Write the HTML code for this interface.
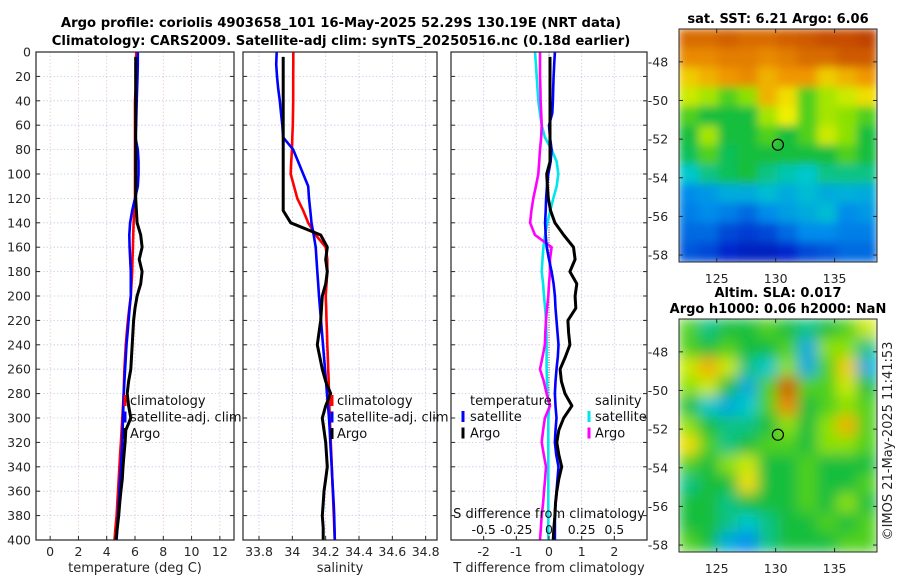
<!DOCTYPE html>
<html><head><meta charset="utf-8"><style>
html,body{margin:0;padding:0;background:#fff}
svg{display:block;font-family:"DejaVu Sans","Liberation Sans",sans-serif}
</style></head><body>
<svg id="fig" width="900" height="580" viewBox="0 0 900 580" xmlns="http://www.w3.org/2000/svg">
<defs>
<filter id="blurA" x="0" y="0" width="1" height="1"><feGaussianBlur stdDeviation="4.5" edgeMode="duplicate"/></filter>
<filter id="blurB" x="0" y="0" width="1" height="1"><feGaussianBlur stdDeviation="7" edgeMode="duplicate"/></filter>
<clipPath id="clipM1"><rect x="679" y="29" width="198" height="233"/></clipPath>
<clipPath id="clipM2"><rect x="679" y="319" width="198" height="233"/></clipPath>
</defs>
<g id="root"></g>
</svg>
<script>
// ---------- data ----------
const depths = [0,10,20,30,40,50,60,70,80,90,100,110,120,130,140,150,160,170,180,190,200,210,220,230,240,250,260,270,280,290,300,310,320,330,340,350,360,370,380,390,400];
const tClim = [6.1,6.05,6.05,6.05,6.0,6.0,6.0,6.0,6.0,6.0,6.0,6.0,6.0,5.95,5.9,5.87,5.85,5.82,5.8,5.75,5.7,5.6,5.5,5.42,5.35,5.3,5.25,5.22,5.2,5.15,5.1,5.05,5.0,4.95,4.9,4.85,4.8,4.75,4.7,4.62,4.55];
const tSat = [6.2,6.2,6.18,6.15,6.12,6.1,6.08,6.03,6.2,6.25,6.25,6.2,6.0,5.8,5.65,5.6,5.62,5.66,5.7,5.7,5.7,5.62,5.55,5.48,5.4,5.35,5.3,5.25,5.2,5.18,5.15,5.12,5.1,5.05,5.0,4.95,4.9,4.85,4.8,4.75,4.7];
const tArgo = [6.05,6.05,6.05,6.05,6.05,6.05,6.05,6.05,6.05,6.05,6.05,6.05,6.05,6.1,6.15,6.4,6.5,6.3,6.5,6.4,6.15,6.0,5.9,5.85,5.8,5.75,5.7,5.55,5.45,5.55,5.7,5.35,5.3,5.22,5.15,5.1,5.0,4.92,4.85,4.75,4.65];
const sClim = [34.006,34.006,34.005,34.005,34.005,34.004,34.003,34.0,33.998,33.993,33.99,34.01,34.03,34.065,34.095,34.14,34.2,34.21,34.21,34.205,34.2,34.203,34.205,34.208,34.21,34.213,34.215,34.218,34.22,34.222,34.225,34.228,34.231,34.234,34.237,34.24,34.243,34.246,34.249,34.252,34.255];
const sSat = [33.906,33.903,33.908,33.915,33.925,33.932,33.94,33.945,34.005,34.035,34.065,34.095,34.1,34.108,34.115,34.128,34.14,34.145,34.15,34.155,34.16,34.166,34.172,34.178,34.184,34.19,34.196,34.202,34.208,34.214,34.22,34.224,34.228,34.232,34.236,34.24,34.244,34.248,34.251,34.253,34.255];
const sArgo = [33.945,33.945,33.945,33.945,33.945,33.945,33.945,33.945,33.945,33.945,33.945,33.945,33.945,33.945,33.99,34.17,34.21,34.2,34.21,34.2,34.18,34.175,34.17,34.16,34.15,34.165,34.18,34.2,34.23,34.2,34.18,34.19,34.2,34.205,34.21,34.2,34.19,34.185,34.18,34.185,34.185];
const dTSat = [0.18,0.16,0.14,0.13,0.12,0.1,0.0,0.03,0.08,0.05,-0.02,-0.06,-0.09,-0.1,-0.12,-0.1,-0.07,0.0,0.08,0.14,0.18,0.2,0.23,0.26,0.29,0.27,0.23,0.2,0.18,0.2,0.23,0.2,0.18,0.22,0.29,0.26,0.23,0.2,0.18,0.18,0.18];
const dTArgo = [0.03,0.03,0.03,0.03,0.03,0.03,0.03,0.03,0.03,0.03,-0.07,-0.05,-0.02,0.05,0.18,0.45,0.75,0.8,0.64,0.85,0.8,0.82,0.58,0.6,0.64,0.5,0.34,0.38,0.49,0.7,0.45,0.3,0.24,0.3,0.39,0.3,0.24,0.2,0.18,0.15,0.13];
const dSSat = [-0.107,-0.1,-0.094,-0.088,-0.082,-0.07,-0.056,-0.031,0.02,0.059,0.071,0.059,0.033,0.01,-0.013,-0.03,-0.043,-0.05,-0.056,-0.045,-0.038,-0.03,-0.023,-0.02,-0.018,-0.018,-0.018,-0.015,-0.013,0.003,-0.005,-0.005,-0.005,-0.005,-0.005,-0.005,-0.005,-0.005,-0.005,-0.005,-0.005];
const dSArgo = [-0.069,-0.069,-0.069,-0.066,-0.064,-0.06,-0.056,-0.06,-0.069,-0.075,-0.082,-0.1,-0.12,-0.135,-0.145,-0.107,0.02,0.008,0.008,0.0,-0.005,-0.015,-0.023,-0.028,-0.031,-0.05,-0.069,-0.04,-0.018,0.008,-0.031,-0.045,-0.056,-0.04,-0.023,-0.03,-0.038,-0.045,-0.056,-0.062,-0.069];
const depthTicks = [0,20,40,60,80,100,120,140,160,180,200,220,240,260,280,300,320,340,360,380,400];
const tTicks = [0,2,4,6,8,10,12];
const sTicks = [33.8,34,34.2,34.4,34.6,34.8];
const dTTicks = [-2,-1,0,1,2];
const dSTicks = [-0.5,-0.25,0,0.25,0.5];
const lonTicks = [125,130,135];
const latTicks = [-48,-50,-52,-54,-56,-58];
const argoLon = 130.19, argoLat = -52.29;
// SST map (normalized colour index 0..1), rows north->south
const sstGrid = [
[.85,.85,.87,.85,.85,.87,.88,.9,.9,.92],
[.8,.8,.82,.82,.8,.82,.85,.85,.88,.88],
[.72,.75,.78,.8,.75,.78,.78,.72,.75,.78],
[.65,.62,.55,.6,.75,.7,.55,.62,.65,.7],
[.55,.5,.5,.5,.62,.68,.55,.62,.6,.55],
[.5,.62,.5,.5,.55,.5,.55,.65,.6,.5],
[.48,.55,.48,.5,.5,.5,.5,.5,.55,.5],
[.4,.45,.48,.5,.45,.42,.4,.45,.45,.45],
[.3,.32,.35,.35,.38,.35,.38,.35,.36,.35],
[.28,.3,.28,.25,.3,.33,.35,.38,.3,.32],
[.25,.25,.2,.18,.2,.25,.3,.3,.28,.28],
[.22,.2,.15,.12,.12,.15,.2,.22,.25,.25]];
const slaGrid = [
[.55,.45,.5,.5,.55,.5,.45,.5,.55,.65],
[.55,.5,.55,.5,.5,.55,.35,.6,.6,.45],
[.65,.75,.65,.45,.4,.6,.35,.55,.72,.35],
[.6,.65,.5,.35,.55,.88,.55,.55,.65,.5],
[.5,.4,.35,.4,.55,.8,.5,.55,.6,.55],
[.6,.5,.45,.45,.5,.6,.5,.6,.75,.55],
[.7,.55,.45,.5,.55,.55,.5,.6,.6,.55],
[.55,.5,.6,.65,.5,.5,.55,.5,.5,.5],
[.45,.5,.5,.7,.5,.5,.55,.5,.5,.55],
[.5,.5,.45,.5,.5,.5,.55,.5,.6,.5],
[.5,.5,.45,.4,.45,.5,.5,.55,.5,.55],
[.55,.5,.35,.3,.45,.5,.5,.5,.55,.55]];

// ---------- helpers ----------
const NS='http://www.w3.org/2000/svg';
const root=document.getElementById('root');
function mk(tag,attrs,parent){const e=document.createElementNS(NS,tag);for(const k in attrs)e.setAttribute(k,attrs[k]);(parent||root).appendChild(e);return e;}
function txt(s,x,y,attrs,parent){const e=mk('text',Object.assign({x:x,y:y,'font-size':12.5,fill:'#262626'},attrs||{}),parent);e.textContent=s;return e;}
const Y0=52,Y1=540;
const yD=d=>Y0+(d/400)*(Y1-Y0);
function lin(d0,d1,r0,r1){return v=>r0+(v-d0)/(d1-d0)*(r1-r0);}
const panels=[
 {x0:36,x1:234,fx:lin(-1,13,36,234),ticks:tTicks,label:'temperature (deg C)',name:'temperature-panel'},
 {x0:243,x1:437,fx:lin(33.704,34.868,243,437),ticks:sTicks,label:'salinity',name:'salinity-panel'},
 {x0:451,x1:647,fx:lin(-3,3,451,647),ticks:dTTicks,label:'T difference from climatology',name:'difference-panel'}];
const fxS=lin(-0.75,0.75,451,647);
function line(vals,fx,col,name,g,w,dmin){
 const pts=vals.map((v,i)=>fx(v).toFixed(1)+','+yD(Math.max(depths[i],dmin||0)).toFixed(1)).join(' ');
 const p=mk('polyline',{points:pts,fill:'none',stroke:col,'stroke-width':w||2.6,'stroke-linejoin':'round'},g);
 
 
 return p;}
function fmt(v){return (v<0?'-':'')+String(Math.abs(v)).replace(/^0\./,'0.');}

// ---------- profile panels ----------
panels.forEach((P,pi)=>{
 const g=mk('g',{});
 
 
 mk('rect',{x:P.x0,y:Y0,width:P.x1-P.x0,height:Y1-Y0,fill:'#fff'},g);
 depthTicks.forEach(d=>{mk('line',{x1:P.x0,x2:P.x1,y1:yD(d),y2:yD(d),stroke:'#c3cbe8','stroke-width':0.8,'stroke-dasharray':'1.5,2'},g);});
 P.ticks.forEach(t=>{mk('line',{x1:P.fx(t),x2:P.fx(t),y1:Y0,y2:Y1,stroke:pi==0?'#e3c6cc':'#c3cbe8','stroke-width':0.8,'stroke-dasharray':'1.5,2'},g);});
 const cp=mk('clipPath',{id:'cp'+pi},g);mk('rect',{x:P.x0,y:Y0,width:P.x1-P.x0,height:Y1-Y0},cp);
 const lg=mk('g',{'clip-path':'url(#cp'+pi+')'},g);
 if(pi==0){line(tClim,P.fx,'#ff0000','temp-climatology-line',lg);line(tSat,P.fx,'#0000ff','temp-satellite-line',lg);line(tArgo,P.fx,'#000','temp-argo-line',lg,3,4);}
 if(pi==1){line(sClim,P.fx,'#ff0000','sal-climatology-line',lg);line(sSat,P.fx,'#0000ff','sal-satellite-line',lg);line(sArgo,P.fx,'#000','sal-argo-line',lg,3,4);}
 if(pi==2){
  mk('line',{x1:P.fx(0),x2:P.fx(0),y1:Y0,y2:Y1,stroke:'#555','stroke-width':1,'stroke-dasharray':'1,1.5'},lg);
  line(dSSat,fxS,'#00e5ee','sdiff-satellite-line',lg);
  line(dSArgo,fxS,'#ff00ff','sdiff-argo-line',lg);
  line(dTSat,P.fx,'#0000ff','tdiff-satellite-line',lg);
  line(dTArgo,P.fx,'#000','tdiff-argo-line',lg,3,4);
 }
 mk('rect',{x:P.x0,y:Y0,width:P.x1-P.x0,height:Y1-Y0,fill:'none',stroke:'#262626','stroke-width':1.2},g);
 depthTicks.forEach(d=>{mk('line',{x1:P.x0,x2:P.x0+4,y1:yD(d),y2:yD(d),stroke:'#262626'},g);mk('line',{x1:P.x1-4,x2:P.x1,y1:yD(d),y2:yD(d),stroke:'#262626'},g);});
 P.ticks.forEach(t=>{mk('line',{x1:P.fx(t),x2:P.fx(t),y1:Y1,y2:Y1-4,stroke:'#262626'},g);
  const tl=txt(fmt(t),P.fx(t),556,{'text-anchor':'middle'},g);
  
  });
 const xl=txt(P.label,(P.x0+P.x1)/2,572,{'text-anchor':'middle','font-size':13},g);
 
 
 if(pi==0){depthTicks.forEach(d=>{const t=txt(String(d),31,yD(d)+4.5,{'text-anchor':'end'},g);
  
  });}
 if(pi<2){
  const lgd=mk('g',{},g);
  
  
  const lx=pi==0?125:332;
  [['climatology','#ff0000'],['satellite-adj. clim','#0000ff'],['Argo','#000']].forEach((e,k)=>{
   const yy=401+k*16.5;
   mk('line',{x1:lx,x2:lx,y1:yy-6,y2:yy+5,stroke:e[1],'stroke-width':3},lgd);
   const t=txt(e[0],lx+5,yy+4,{'font-size':13,fill:'#111'},lgd);
   
   
  });
 } else {
  const lgd=mk('g',{},g);
  
  
  txt('temperature',470,405,{'font-size':13,fill:'#111'},lgd);
  txt('salinity',595,405,{'font-size':13,fill:'#111'},lgd);
  [['satellite','#0000ff','#00e5ee'],['Argo','#000','#ff00ff']].forEach((e,k)=>{
   const yy=417+k*16.5;
   mk('line',{x1:463,x2:463,y1:yy-6,y2:yy+5,stroke:e[1],'stroke-width':3},lgd);
   const a=txt(e[0],470,yy+4,{'font-size':13,fill:'#111'},lgd);
   
   
   mk('line',{x1:589,x2:589,y1:yy-6,y2:yy+5,stroke:e[2],'stroke-width':3},lgd);
   const b=txt(e[0],595,yy+4,{'font-size':13,fill:'#111'},lgd);
   
   
  });
  const st=txt('S difference from climatology',549,518,{'text-anchor':'middle','font-size':13,fill:'#111'},g);
  
  
  dSTicks.forEach(t=>{const l=txt(fmt(t),fxS(t),534,{'text-anchor':'middle',fill:'#111'},g);
   
   });
 }
});

// ---------- titles ----------
const t1=txt('Argo profile: coriolis 4903658_101 16-May-2025 52.29S 130.19E (NRT data)',341,27,{'text-anchor':'middle','font-size':13.2,'font-weight':'bold',fill:'#000'});


const t2=txt('Climatology: CARS2009. Satellite-adj clim: synTS_20250516.nc (0.18d earlier)',341,45,{'text-anchor':'middle','font-size':13.2,'font-weight':'bold',fill:'#000'});



// ---------- maps ----------
const cmapStops=[[0,[0,0,140]],[0.15,[0,40,205]],[0.3,[0,140,235]],[0.4,[0,200,205]],[0.5,[20,190,60]],[0.6,[140,225,0]],[0.68,[240,240,0]],[0.78,[240,150,0]],[0.88,[205,90,0]],[1,[165,20,0]]];
function cmap(v){
 for(let i=1;i<cmapStops.length;i++){const a=cmapStops[i-1],b=cmapStops[i];
  if(v<=b[0]){const f=(v-a[0])/(b[0]-a[0]);return 'rgb('+a[1].map((c,k)=>Math.round(c+(b[1][k]-c)*Math.max(0,f))).join(',')+')';}}
 return 'rgb(165,20,0)';}
function drawMap(grid,top,clip,filt,name,titles){
 const g=mk('g',{});
 
 
 const fx=lin(121.8,138.6,679,877), fy=lin(-46.3,-58.36,top,top+233);
 const cg=mk('g',{'clip-path':'url(#'+clip+')'},g);
 const ig=mk('g',{filter:'url(#'+filt+')'},cg);
 const nr=grid.length,nc=grid[0].length,dlon=(138.6-121.8)/nc,dlat=(58.36-46.3)/nr;
 grid.forEach((row,r)=>row.forEach((v,c)=>{
  const x0=fx(121.8+c*dlon),x1=fx(121.8+(c+1)*dlon),y0=fy(-46.3-r*dlat),y1=fy(-46.3-(r+1)*dlat);
  const cell=mk('rect',{x:x0-0.5,y:y0-0.5,width:x1-x0+1,height:y1-y0+1,fill:cmap(v)},ig);
  
  
 }));
 const circ=mk('circle',{cx:fx(argoLon),cy:fy(argoLat),r:5.5,fill:'none',stroke:'#000','stroke-width':1.2},g);
 
 
 mk('rect',{x:679,y:top,width:198,height:233,fill:'none',stroke:'#262626','stroke-width':1},g);
 lonTicks.forEach(l=>{mk('line',{x1:fx(l),x2:fx(l),y1:top,y2:top+4,stroke:'#262626'},g);mk('line',{x1:fx(l),x2:fx(l),y1:top+233,y2:top+229,stroke:'#262626'},g);
  const t=txt(String(l),fx(l),top+254,{'text-anchor':'middle'},g);
  
  });
 latTicks.forEach(l=>{mk('line',{x1:679,x2:683,y1:fy(l),y2:fy(l),stroke:'#262626'},g);mk('line',{x1:873,x2:877,y1:fy(l),y2:fy(l),stroke:'#262626'},g);
  const t=txt(String(l),658,fy(l)+4.5,{'text-anchor':'middle'},g);
  
  });
 titles.forEach((s,k)=>{const t=txt(s,778,top-(titles.length-k-1)*16-6,{'text-anchor':'middle','font-size':13,'font-weight':'bold',fill:'#000'},g);
  
  });
}
drawMap(sstGrid,29,'clipM1','blurA','sst-map',['sat. SST: 6.21 Argo: 6.06']);
drawMap(slaGrid,319,'clipM2','blurB','sla-map',['Altim. SLA: 0.017','Argo h1000: 0.06 h2000: NaN']);
const cr=txt('©IMOS 21-May-2025 11:41:53',0,0,{'text-anchor':'middle','font-size':13,fill:'#262626',transform:'translate(892,441) rotate(-90)'});


</script>
</body></html>
